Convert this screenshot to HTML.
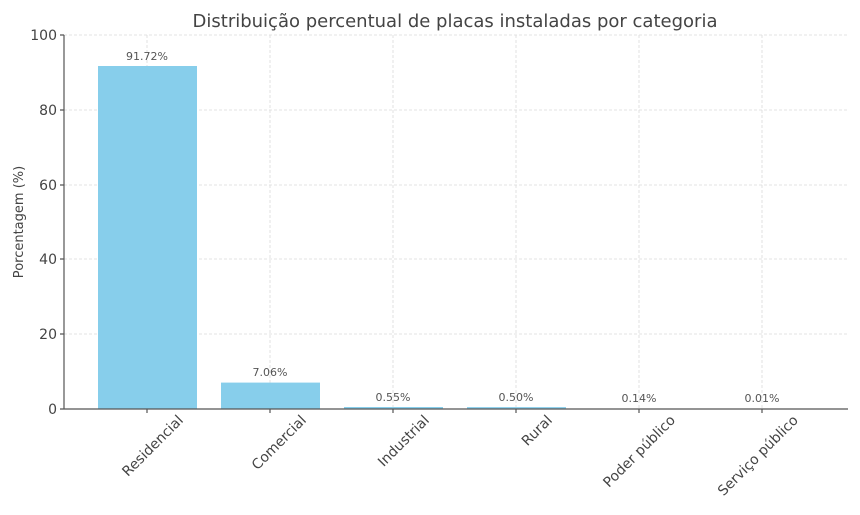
<!DOCTYPE html>
<html><head><meta charset="utf-8"><style>body{margin:0;background:#fff}svg{display:block;font-family:"DejaVu Sans","Liberation Sans",sans-serif}</style></head>
<body>
<svg width="860" height="515" viewBox="0 0 860 515">
<g stroke="#dadada" stroke-width="0.8" stroke-dasharray="3,2">
<line x1="64" y1="35" x2="848" y2="35"/>
<line x1="64" y1="110" x2="848" y2="110"/>
<line x1="64" y1="185" x2="848" y2="185"/>
<line x1="64" y1="259" x2="848" y2="259"/>
<line x1="64" y1="334" x2="848" y2="334"/>
<line x1="147" y1="35" x2="147" y2="409"/>
<line x1="270" y1="35" x2="270" y2="409"/>
<line x1="393" y1="35" x2="393" y2="409"/>
<line x1="516" y1="35" x2="516" y2="409"/>
<line x1="639" y1="35" x2="639" y2="409"/>
<line x1="762" y1="35" x2="762" y2="409"/>
</g>
<g fill="#87ceeb">
<rect x="98" y="66" width="99" height="343"/>
<rect x="221" y="382.6" width="99" height="26.4"/>
<rect x="344" y="407" width="99" height="2"/>
<rect x="467" y="407.1" width="99" height="1.9"/>
<rect x="590" y="408.5" width="99" height="0.5"/>
</g>
<g stroke="#555" stroke-width="1.2" fill="none">
<line x1="64" y1="35" x2="64" y2="409"/>
<line x1="64" y1="409" x2="848" y2="409"/>
<path d="M60 35H64M60 110H64M60 185H64M60 259H64M60 334H64M60 409H64M147 409V413M270 409V413M393 409V413M516 409V413M639 409V413M762 409V413"/>
</g>
<g font-size="14" fill="#444" text-anchor="end">
<text x="57" y="40">100</text><text x="57" y="115">80</text><text x="57" y="190">60</text>
<text x="57" y="264">40</text><text x="57" y="339">20</text><text x="57" y="414">0</text>
</g>
<g font-size="11" fill="#555" text-anchor="middle">
<text x="147" y="60">91.72%</text><text x="270" y="376">7.06%</text><text x="393" y="401">0.55%</text>
<text x="516" y="401">0.50%</text><text x="639" y="402">0.14%</text><text x="762" y="402">0.01%</text>
</g>
<g font-size="14" fill="#444" text-anchor="end">
<text transform="translate(184,421) rotate(-45)">Residencial</text>
<text transform="translate(307,421) rotate(-45)">Comercial</text>
<text transform="translate(430,421) rotate(-45)">Industrial</text>
<text transform="translate(553,421) rotate(-45)">Rural</text>
<text transform="translate(676,421) rotate(-45)">Poder público</text>
<text transform="translate(799,421) rotate(-45)">Serviço público</text>
</g>
<text transform="translate(23,222) rotate(-90)" font-size="13" fill="#444" text-anchor="middle">Porcentagem (%)</text>
<text x="455" y="27" font-size="18" fill="#444" text-anchor="middle">Distribuição percentual de placas instaladas por categoria</text>
</svg>
</body></html>
